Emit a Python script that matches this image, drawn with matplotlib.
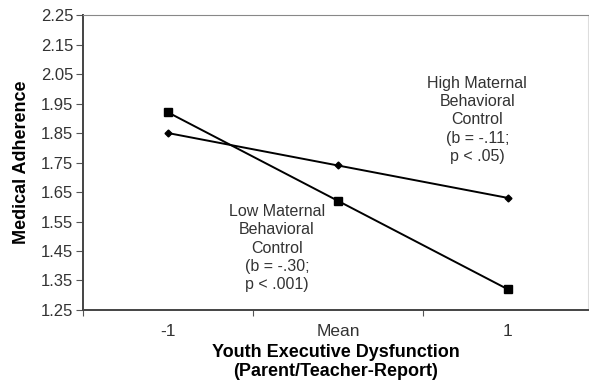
import matplotlib
matplotlib.use("Agg")
import matplotlib.pyplot as plt

plt.rcParams["font.family"] = ["Liberation Sans", "DejaVu Sans"]

categories = ["-1", "Mean", "1"]
low_control = [1.92, 1.62, 1.32]
high_control = [1.85, 1.74, 1.63]
y_ticks = [1.25, 1.35, 1.45, 1.55, 1.65, 1.75, 1.85, 1.95, 2.05, 2.15, 2.25]

high_label = "High Maternal\nBehavioral\nControl\n(b = -.11;\np < .05)"
low_label = "Low Maternal\nBehavioral\nControl\n(b = -.30;\np < .001)"

fig = plt.figure(figsize=(5.89, 3.87), dpi=100)
ax = fig.add_axes([0.141, 0.199, 0.857, 0.762])

x = list(range(len(categories)))
ax.plot(x, low_control, color="black", lw=1.4, marker="s", ms=5.5)
ax.plot(x, high_control, color="black", lw=1.4, marker="D", ms=3.5)

ax.set_xlim(-0.5, 2.47)
ax.set_ylim(1.25, 2.25)
ax.set_yticks(y_ticks)
ax.set_yticklabels([f"{v:.2f}" for v in y_ticks], fontsize=12, color="#333333")

# category labels sit between the tick marks
ax.set_xticks([-0.5, 0.5, 1.5])
ax.set_xticklabels([])
ax.set_xticks(x, minor=True)
ax.set_xticklabels(categories, minor=True, fontsize=12.5, color="#333333")
ax.tick_params(axis="x", which="minor", length=0, pad=10)
ax.tick_params(axis="x", which="major", length=4, color="#555555")
ax.tick_params(axis="y", length=5, color="#555555", pad=2)

for side in ["left", "bottom"]:
    ax.spines[side].set_color("#444444")
    ax.spines[side].set_linewidth(1.4)
ax.spines["top"].set_color("#888888")
ax.spines["right"].set_color("#dddddd")

ax.set_ylabel("Medical Adherence", fontsize=13, fontweight="bold", labelpad=8)
ax.set_xlabel("Youth Executive Dysfunction\n(Parent/Teacher-Report)",
              fontsize=13, fontweight="bold", labelpad=4, linespacing=1.12)

ax.text(1.82, 1.895, high_label, ha="center", va="center", fontsize=11.5,
        color="#333333", linespacing=1.27)
ax.text(0.64, 1.46, low_label, ha="center", va="center", fontsize=11.5,
        color="#333333", linespacing=1.27)

fig.savefig("out.png", dpi=100)
